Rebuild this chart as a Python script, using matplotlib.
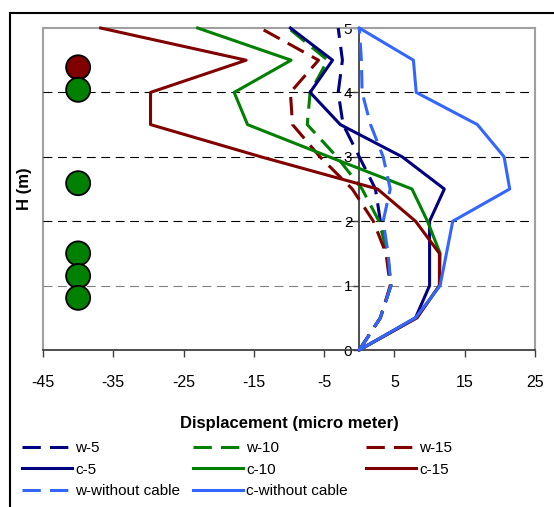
import matplotlib
matplotlib.use("Agg")
import matplotlib.pyplot as plt
from matplotlib.lines import Line2D
from matplotlib.patches import Rectangle

plt.rcParams['font.family'] = ['Liberation Sans', 'DejaVu Sans']
plt.rcParams['axes.unicode_minus'] = False

# Heights along the pile (m)
heights = [0, 0.5, 1.0, 1.5, 2.0, 2.5, 3.0, 3.5, 4.0, 4.5, 5.0]

# Displacements (micro meter), bottom to top
w_5 = [0, 3.0, 4.5, 4.0, 3.0, 2.3, 0.0, -2.3, -3.0, -2.4, -3.0]
w_10 = [0, 3.0, 4.5, 4.0, 2.8, 0.4, -3.2, -7.4, -7.0, -4.5, -10.1]
w_15 = [0, 3.0, 4.4, 3.8, 2.0, -1.0, -5.6, -9.5, -9.8, -5.8, -14.1]
c_5 = [0, 8.0, 10.0, 10.0, 10.0, 12.1, 6.1, -2.7, -7.0, -3.8, -9.8]
c_10 = [0, 8.2, 11.4, 11.5, 9.7, 7.5, -4.3, -15.9, -17.8, -9.7, -23.0]
c_15 = [0, 8.2, 11.4, 11.4, 8.0, 2.6, -14.0, -29.7, -29.7, -16.1, -36.8]
w_none = [0, 3.0, 4.5, 4.1, 3.4, 4.4, 3.4, 1.6, 0.4, 0.3, 0.0]
c_none = [0, 8.0, 11.5, 12.4, 13.3, 21.4, 20.6, 16.8, 8.1, 7.7, 0.0]

# Cable anchor markers
anchor_x = [-40, -40, -40, -40, -40, -40]
anchor_h = [4.39, 4.04, 2.59, 1.50, 1.15, 0.81]
anchor_colors = ['#800000', '#008000', '#008000', '#008000', '#008000', '#008000']

x_ticks = [-45, -35, -25, -15, -5, 5, 15, 25]
y_ticks = [0, 1, 2, 3, 4, 5]
grid_levels = [1, 2, 3, 4]

NAVY, GREEN, MAROON, BLUE = '#000080', '#008000', '#800000', '#3366FF'

W, H = 554, 507
fig = plt.figure(figsize=(W / 100, H / 100), dpi=100)
ax = fig.add_axes([43 / W, 1 - 350 / H, (535 - 43) / W, (350 - 28) / H])

ax.set_xlim(-45, 25)
ax.set_ylim(0, 5)

# horizontal dashed grid
ax.hlines(grid_levels, -45, 25, colors=['#808080', 'black', 'black', 'black'],
          linestyles=(0, (8, 5)), linewidth=0.8, zorder=1)

lw = 2.2
dash = (0, (6, 3))
series = [
    (w_5, NAVY, dash, 'w-5'),
    (w_10, GREEN, dash, 'w-10'),
    (w_15, MAROON, dash, 'w-15'),
    (c_5, NAVY, '-', 'c-5'),
    (c_10, GREEN, '-', 'c-10'),
    (c_15, MAROON, '-', 'c-15'),
    (w_none, BLUE, dash, 'w-without cable'),
    (c_none, BLUE, '-', 'c-without cable'),
]
handles = {}
for vals, col, ls, lab in series:
    ln, = ax.plot(vals, heights, color=col, linestyle=ls, linewidth=lw,
                  label=lab, zorder=3, clip_on=False)
    handles[lab] = ln

ax.scatter(anchor_x, anchor_h, s=24 ** 2 * 0.52, c=anchor_colors,
           edgecolors='black', linewidths=1.3, zorder=5)

# frame of the plot area
for side in ['top', 'right']:
    ax.spines[side].set_color('#a0a0a0')
    ax.spines[side].set_linewidth(1.5)
ax.spines['bottom'].set_color('#404040')
ax.spines['bottom'].set_linewidth(1.3)
ax.spines['left'].set_position(('data', 0))
ax.spines['left'].set_color('#404040')
ax.spines['left'].set_linewidth(1.3)
ax.add_patch(Rectangle((0, 0), 0, 1, transform=ax.transAxes, fill=False,
                       edgecolor='#a0a0a0', linewidth=1.5, zorder=0.5, clip_on=False))

ax.set_xticks(x_ticks)
ax.set_yticks(y_ticks)
ax.tick_params(axis='x', direction='out', length=5, width=1, color='#404040',
               pad=13, labelsize=11.5)
ax.tick_params(axis='y', direction='out', length=4, width=1, color='#404040',
               pad=1, labelsize=11)

ax.set_xlabel('Displacement (micro meter)', fontsize=12, fontweight='bold', labelpad=19)
fig.text(25 / W, 1 - 189 / H, 'H (m)', rotation=90, ha='center', va='center',
         fontsize=12, fontweight='bold')

# legend, three columns
cols = [['w-5', 'c-5', 'w-without cable'],
        ['w-10', 'c-10', 'c-without cable'],
        ['w-15', 'c-15']]
col_x = [22, 193, 366]
for labs, x0 in zip(cols, col_x):
    fig.legend([handles[l] for l in labs], labs, loc='upper left',
               bbox_to_anchor=(x0 / W, 1 - 441 / H), frameon=False, fontsize=11,
               handlelength=3.3, handletextpad=0.2, labelspacing=0.5,
               borderpad=0, borderaxespad=0)

# outer border of the figure
fig.add_artist(Line2D([10 / W, 1.0], [1 - 13 / H, 1 - 13 / H], color='black', linewidth=1.5))
fig.add_artist(Line2D([10 / W, 10 / W], [0.0, 1 - 13 / H], color='black', linewidth=1.5))

fig.savefig('out.png', dpi=100)
